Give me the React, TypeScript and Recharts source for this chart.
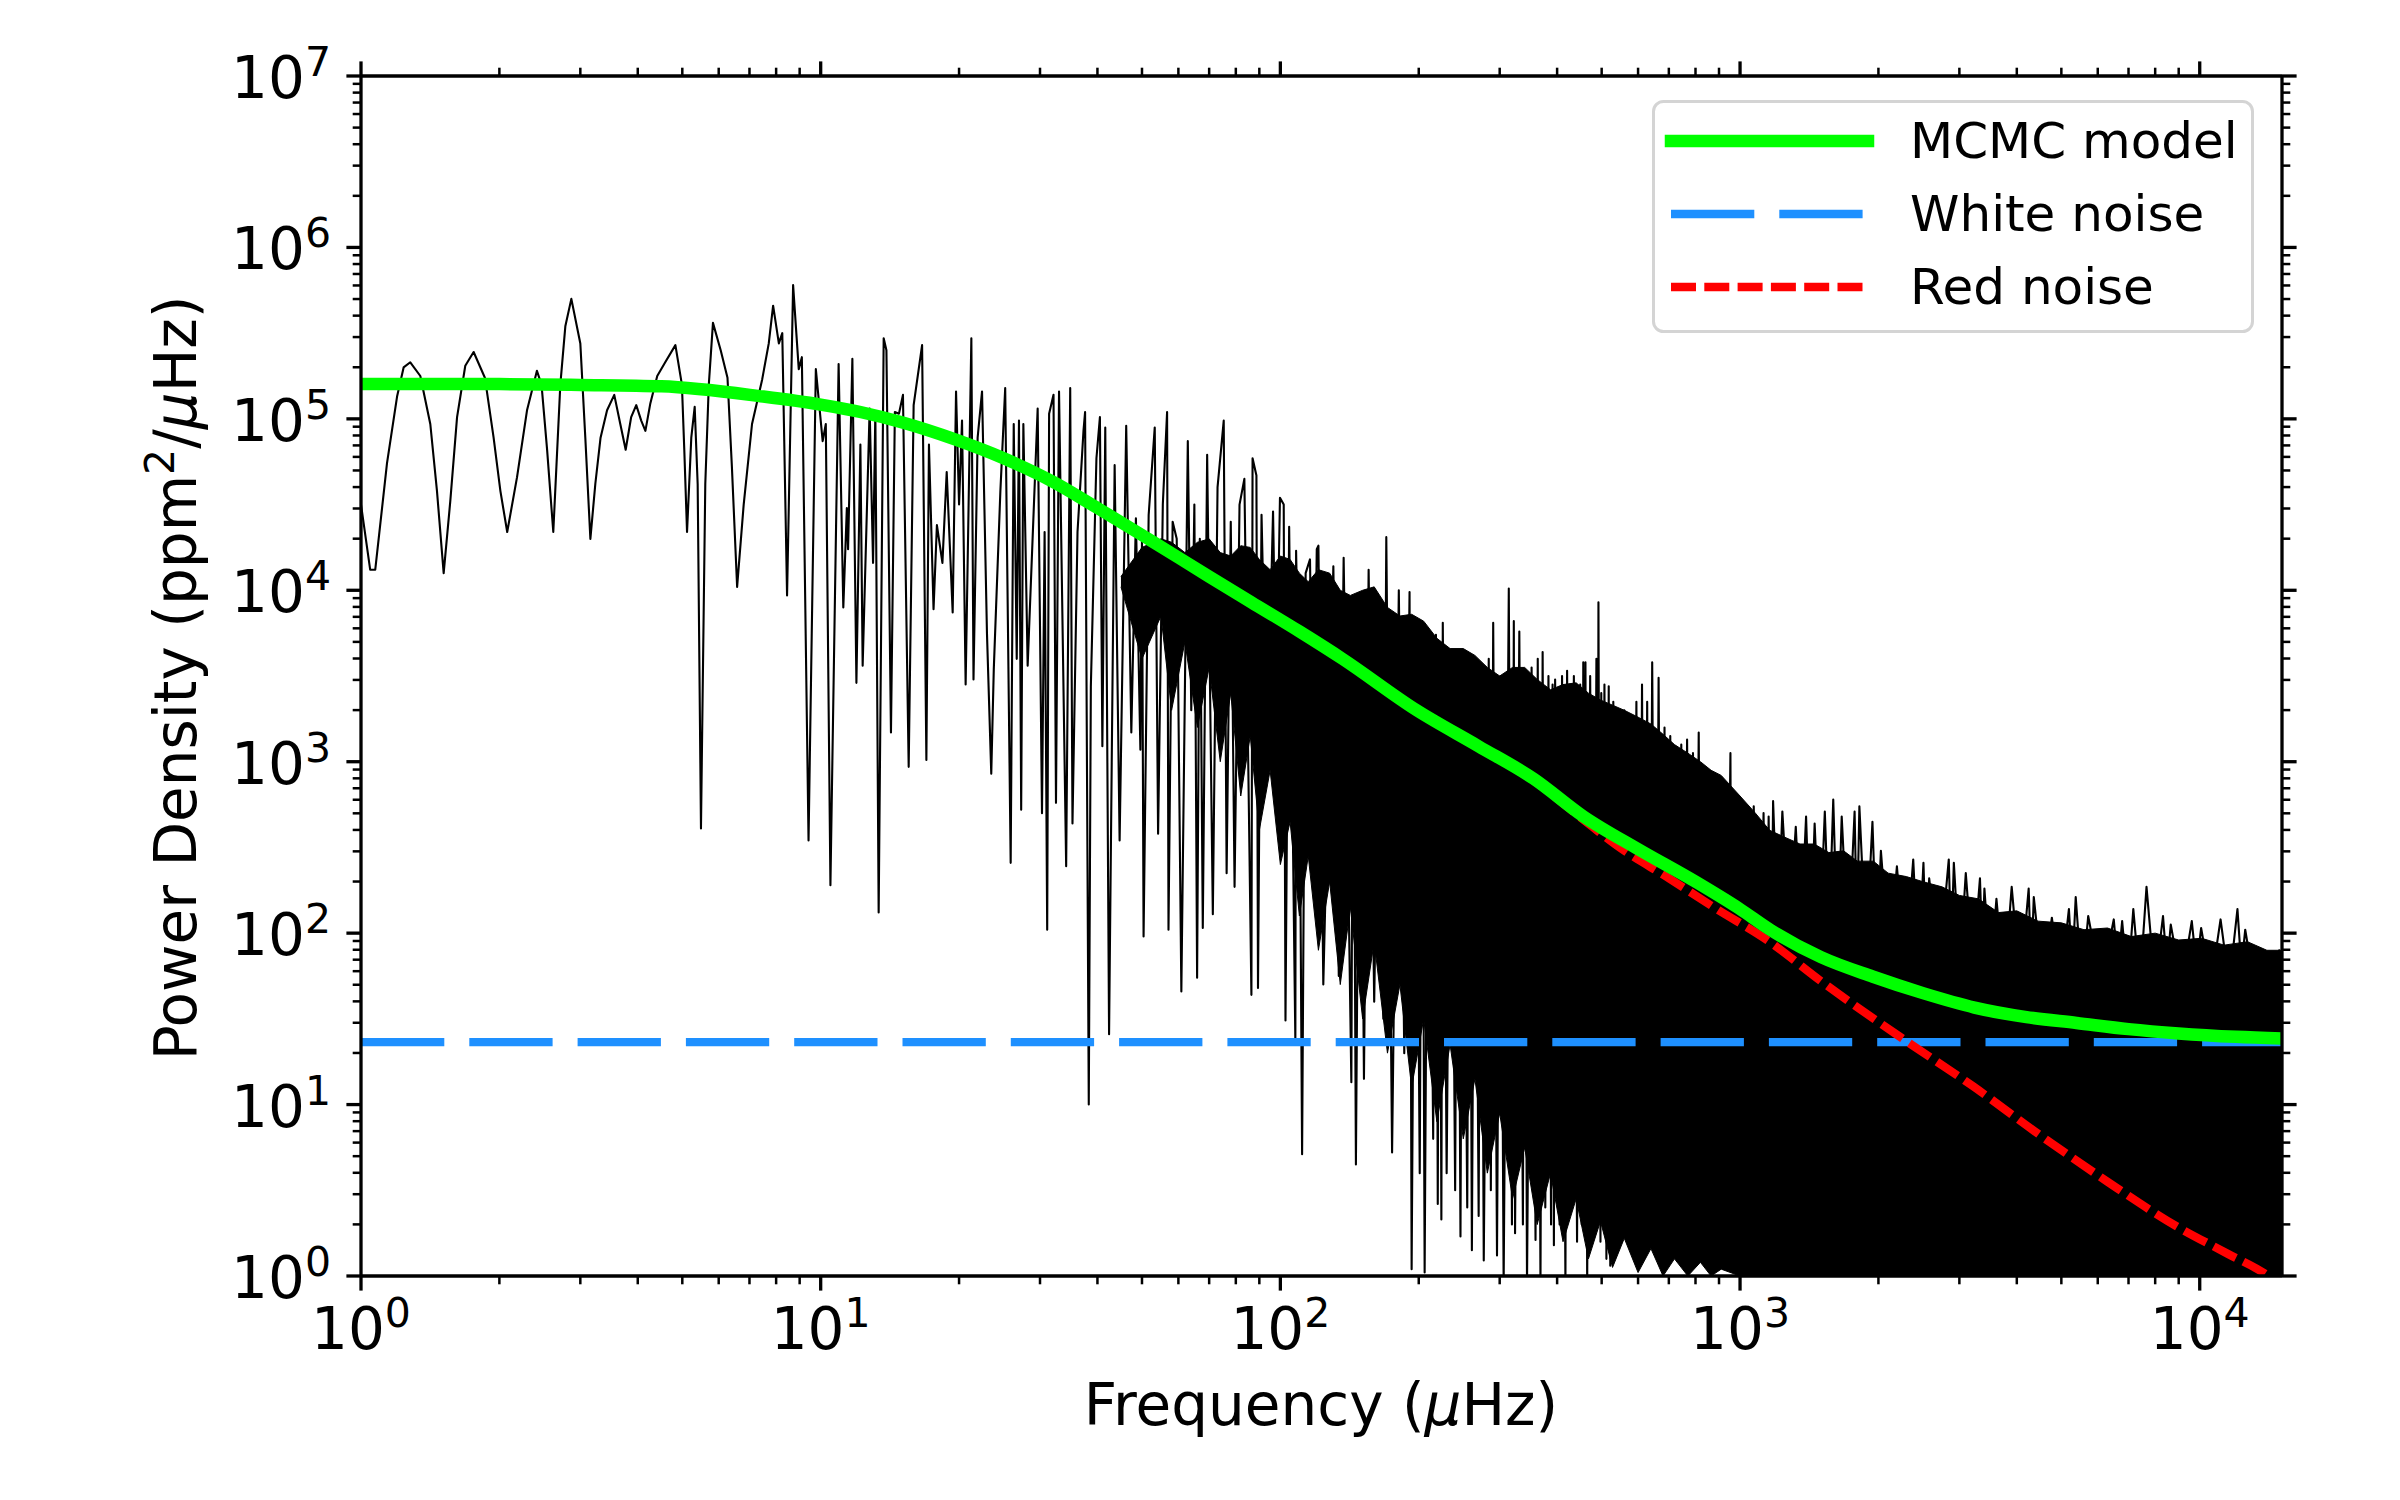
import React from "react";
import { ComposedChart, Line, Area, XAxis, YAxis, Legend } from "recharts";

const FONT = "DejaVu Sans";

// periodogram: [frequency (µHz), log10 power density]
const lowSpec: [number, number][] = [
  [1.0, 4.5], [1.047, 4.12], [1.074, 4.12], [1.139, 4.74], [1.198, 5.13], [1.238, 5.3],
  [1.28, 5.33], [1.346, 5.25], [1.415, 4.97], [1.463, 4.58], [1.513, 4.1], [1.564, 4.52],
  [1.618, 5.01], [1.686, 5.31], [1.758, 5.39], [1.86, 5.24], [1.943, 4.89], [2.01, 4.58],
  [2.08, 4.34], [2.185, 4.66], [2.297, 5.05], [2.414, 5.28], [2.47, 5.2], [2.54, 4.82],
  [2.62, 4.34], [2.714, 5.2], [2.783, 5.54], [2.868, 5.7], [3.0, 5.44], [3.076, 4.89],
  [3.155, 4.3], [3.234, 4.62], [3.32, 4.89], [3.43, 5.05], [3.556, 5.14], [3.665, 4.97],
  [3.765, 4.82], [3.87, 5.01], [3.97, 5.08], [4.07, 4.99], [4.156, 4.93], [4.26, 5.09],
  [4.41, 5.25], [4.59, 5.33], [4.83, 5.43], [4.99, 5.2], [5.05, 4.82], [5.12, 4.34],
  [5.23, 4.89], [5.32, 5.07], [5.4, 4.62], [5.49, 2.61], [5.61, 4.62], [5.71, 5.2],
  [5.83, 5.56], [6.06, 5.4], [6.27, 5.24], [6.41, 4.72], [6.58, 4.02], [6.8, 4.5],
  [7.09, 4.97], [7.46, 5.23], [7.71, 5.44], [7.88, 5.66], [8.11, 5.44], [8.25, 5.5],
  [8.45, 3.97], [8.71, 5.78], [8.96, 5.29], [9.1, 5.36], [9.41, 2.54], [9.76, 5.29],
  [10.1, 4.87], [10.26, 4.97],
];

const midSpec: [number, number][] = [
  [10.5, 2.28], [10.94, 5.32], [11.2, 3.9], [11.4, 4.48], [11.47, 4.24], [11.72, 5.35],
  [11.96, 3.46], [12.2, 4.85], [12.34, 3.56], [12.78, 5.06], [13.0, 4.16], [13.15, 5.04],
  [13.37, 2.12], [13.71, 5.47], [13.9, 5.4], [14.22, 3.17], [14.5, 5.04], [14.8, 5.03],
  [15.1, 5.14], [15.54, 2.97], [15.93, 5.08], [16.62, 5.43], [16.98, 3.01], [17.2, 4.85],
  [17.6, 3.89], [17.9, 4.38], [18.4, 4.16], [18.8, 4.69], [19.37, 3.87], [19.7, 5.16],
  [20.0, 4.5], [20.3, 4.99], [20.67, 3.45], [21.27, 5.47], [21.5, 3.48], [21.95, 4.89],
  [22.44, 5.16], [23.0, 3.75], [23.5, 2.93], [23.8, 3.54], [24.6, 4.58], [25.2, 5.18],
  [25.9, 2.41], [26.3, 4.97], [26.7, 3.6], [27.0, 4.99], [27.3, 2.72], [27.6, 4.97],
  [28.2, 3.56], [29.65, 5.06], [30.3, 2.7], [30.7, 4.34], [31.1, 2.02], [31.4, 5.03],
  [32.1, 5.14], [32.5, 2.76], [33.0, 5.16], [34.2, 2.39], [34.9, 5.18], [35.3, 2.64],
  [36.2, 4.34], [37.3, 4.93], [37.6, 5.04], [38.3, 1.0], [38.7, 3.44], [39.8, 4.77],
  [40.5, 5.01], [41.0, 3.09], [41.6, 4.95], [42.4, 1.41], [43.6, 4.73], [44.7, 2.54],
  [46.2, 4.96], [47.4, 3.17], [48.5, 4.42], [49.6, 3.07], [50.0, 4.3], [50.4, 1.98],
  [51.7, 4.44], [53.3, 4.95], [54.2, 2.58], [55.5, 4.5], [56.7, 5.04], [57.1, 2.02],
  [58.3, 4.4], [59.5, 4.3], [60.9, 1.66], [62.9, 4.87], [64.0, 3.3], [65.0, 4.5],
  [65.9, 1.74], [66.8, 4.3], [67.8, 2.03], [69.3, 4.79], [71.3, 2.11], [73.0, 4.6],
  [75.3, 4.99], [76.4, 2.35], [78.0, 4.4], [79.5, 2.27], [81.5, 4.5], [83.5, 4.65],
  [86.5, 1.64], [87.0, 4.77], [88.7, 4.67], [89.4, 1.68], [91.0, 4.44], [93.5, 3.0],
  [96.4, 4.46], [98.0, 3.3], [99.8, 4.54], [101.7, 4.5], [102.6, 1.49], [104.5, 4.37],
  [107.8, 1.37], [108.2, 4.23], [110.0, 3.2], [111.5, 0.71], [113.5, 4.1], [116.0, 4.18],
  [118.0, 2.8], [120.0, 4.24],
];

const highSpec: [number, number][] = [
  [121, 4.26], [124, 1.7], [130.4, 4.14], [134, 1.75], [137.3, 4.19], [142.7, 1.13],
  [144, 3.9], [146, 0.65], [149, 3.95], [152, 1.15], [155.6, 4.12], [160, 1.6],
  [165, 3.9], [167.5, 1.5], [170, 4.31], [175, 0.72], [181, 4.0], [186, 1.3],
  [191, 3.99], [193, 0.04], [197, 3.8], [201, 0.6], [203.5, 3.7], [206, 0.02],
  [210, 3.75], [215, 0.8], [218, 3.74], [220, 0.42], [222, 3.6], [224, 0.33],
  [225.6, 3.81], [230, 0.6], [235, 3.6], [240, 0.5], [243, 3.55], [246.5, 0.23],
  [249.3, 3.61], [255, 0.4], [258, 3.5], [261, 0.15], [265, 3.55], [270, 0.35],
  [273, 3.5], [277, 0.09], [284, 3.6], [287, 0.5], [290.4, 3.81], [296, 0.12],
  [301, 3.5], [306, -0.05], [314, 4.01], [319, 0.3], [322, 3.82], [324, 0.25],
  [331, 3.76], [337, 0.3], [340, 3.5], [344, -0.05], [352, 3.55], [359, 0.21],
  [363, 3.6], [368, -0.05], [372, 3.64], [377, 0.4], [383, 3.5], [388, 0.3],
  [391, 3.45], [393.6, 0.18], [396, 3.48], [405, 0.3], [410, 3.5], [417, -0.05],
  [420.5, 3.53], [428, 0.4], [435, 3.5], [442, 0.2], [449, 3.45], [452.5, 0.3],
  [456, 3.58], [458.5, 0.5], [461, 3.58], [465, -0.05], [472, 3.5], [480, 0.3],
  [487, 3.6], [489.5, 0.6], [492, 3.93], [497, 0.2], [499, 3.4], [501, 0.41],
  [507, 3.45], [512, 0.1], [518, 3.44], [522, 0.06], [530, 3.35], [537, 0.3],
  [545, 3.3], [552, 0.2], [560, 3.3], [568, 0.4], [577, 3.25], [585, 0.5],
  [595, 3.35], [603, 0.3], [612, 3.45], [620, 0.5], [628, 3.35], [635, 0.4],
  [644, 3.58], [655, 0.5], [665, 3.49], [675, 0.6], [685, 3.2], [695, 0.4],
  [705, 3.15], [715, 0.5], [723, 3.05], [730, 0.48], [745, 3.1], [755, 0.6],
  [767, 3.13], [780, 0.5], [790, 3.05], [800, 0.6], [813, 3.17], [825, 0.6],
  [840, 2.95], [855, 0.5], [870, 2.85], [877, 0.7], [884, 2.7], [900, 0.5],
  [915, 2.9], [930, 0.6], [953, 3.05], [961, 0.36], [980, 2.8], [1000, 0.5],
  [1020, 2.75], [1045, 1.0], [1071, 2.74], [1100, 1.2], [1125, 2.7], [1140, 1.3],
  [1154, 2.68], [1167, 1.5], [1180, 2.77], [1208, 2.0], [1236, 2.71], [1280, 2.0],
  [1322, 2.62], [1357, 2.0], [1392, 2.68], [1422, 1.9], [1453, 2.64], [1490, 1.95],
  [1529, 2.71], [1562, 2.0], [1595, 2.78], [1630, 1.9], [1664, 2.68], [1720, 1.9],
  [1775, 2.71], [1796, 2.0], [1818, 2.74], [1880, 1.9], [1941, 2.65], [1983, 1.9],
  [2025, 2.48], [2110, 1.85], [2194, 2.39], [2287, 1.8], [2381, 2.43], [2443, 1.8],
  [2506, 2.41], [2540, 1.9], [2579, 2.32], [2710, 1.8], [2845, 2.43], [2880, 1.9],
  [2918, 2.41], [3008, 1.8], [3098, 2.35], [3210, 1.8], [3326, 2.32], [3365, 1.9],
  [3401, 2.26], [3505, 1.75], [3612, 2.2], [3755, 1.7], [3899, 2.27], [4070, 1.7],
  [4245, 2.26], [4300, 1.8], [4355, 2.21], [4560, 1.7], [4768, 2.09], [4980, 1.7],
  [5193, 2.14], [5283, 1.8], [5373, 2.21], [5545, 1.7], [5720, 2.1], [6100, 1.7],
  [6501, 2.08], [6640, 1.8], [6780, 2.07], [6975, 1.7], [7170, 2.14], [7410, 1.7],
  [7660, 2.27], [7990, 1.7], [8320, 2.1], [8485, 1.8], [8650, 2.05], [9130, 1.7],
  [9610, 2.07], [9840, 1.8], [10070, 2.03], [10580, 1.7], [11100, 2.08], [11590, 1.7],
  [12080, 2.14], [12320, 1.8], [12560, 2.02], [13140, 1.7], [13730, 1.9], [14310, 1.7],
  [14890, 1.9], [15100, 1.75],
];

// densely filled part of the periodogram: [frequency, log10 lower edge, log10 upper edge]
const coreBand: [number, number, number][] = [
  [45, 4.02, 4.08], [50, 3.6, 4.25], [55, 3.85, 4.3], [58, 3.3, 4.28], [62, 3.7, 4.22],
  [66, 3.2, 4.28], [70, 3.55, 4.3], [74, 3.0, 4.22], [78, 3.4, 4.2], [82, 2.8, 4.26],
  [86, 3.15, 4.25], [90, 2.6, 4.18], [95, 2.95, 4.12], [100, 2.4, 4.2], [105, 2.65, 4.18],
  [110, 2.1, 4.1], [115, 2.45, 4.05], [121, 1.9, 4.12], [128, 2.3, 4.1], [135, 1.7, 4.0],
  [142, 2.15, 3.97], [151, 1.5, 4.0], [160, 1.95, 4.02], [171, 1.3, 3.9], [182, 1.7, 3.85],
  [193, 1.1, 3.86], [205, 1.5, 3.82], [219, 0.9, 3.72], [234, 1.35, 3.66], [250, 0.8, 3.66],
  [265, 1.15, 3.62], [282, 0.6, 3.55], [300, 0.95, 3.5], [320, 0.45, 3.55], [340, 0.75, 3.55],
  [362, 0.3, 3.48], [387, 0.6, 3.42], [412, 0.2, 3.45], [440, 0.45, 3.46], [468, 0.1, 3.4],
  [497, 0.32, 3.36], [528, 0.05, 3.33], [560, 0.22, 3.3], [600, 0.02, 3.26], [640, 0.16, 3.22],
  [680, 0, 3.16], [720, 0.1, 3.1], [770, 0, 3.05], [820, 0.08, 3.0], [865, 0, 2.95],
  [910, 0.04, 2.92], [1000, 0, 2.8], [1080, 0, 2.7], [1160, 0, 2.6], [1250, 0, 2.56],
  [1350, 0, 2.52], [1450, 0, 2.52], [1560, 0, 2.47], [1680, 0, 2.48], [1800, 0, 2.42],
  [1950, 0, 2.42], [2100, 0, 2.35], [2300, 0, 2.33], [2500, 0, 2.3], [2750, 0, 2.27],
  [3000, 0, 2.22], [3300, 0, 2.2], [3650, 0, 2.12], [4000, 0, 2.13], [4450, 0, 2.07],
  [5000, 0, 2.06], [5600, 0, 2.02], [6300, 0, 2.03], [7100, 0, 1.98], [8000, 0, 2.0],
  [9000, 0, 1.96], [10100, 0, 1.97], [11300, 0, 1.93], [12700, 0, 1.95], [14000, 0, 1.9],
  [15100, 0, 1.9],
];

// fitted curves: [frequency, log10 power density]
const modelCurve: [number, number][] = [
  [1, 5.204], [2, 5.203], [3, 5.198], [4.5, 5.19], [7.5, 5.13], [10, 5.083], [12.2, 5.04],
  [15, 4.98], [19.6, 4.88], [25, 4.77], [32, 4.633], [40, 4.48], [52.3, 4.29], [70, 4.08],
  [86.5, 3.93], [110, 3.76], [136.5, 3.6], [198, 3.3], [270, 3.09], [356, 2.9], [457, 2.68],
  [600, 2.49], [800, 2.3], [1000, 2.14], [1163, 2.02], [1500, 1.86], [1941, 1.747],
  [2500, 1.65], [3236, 1.566], [4200, 1.51], [5395, 1.476], [7000, 1.44], [8985, 1.415],
  [12000, 1.395], [15100, 1.385],
];

const redCurve: [number, number][] = [
  [1, 5.204], [2, 5.203], [3, 5.198], [4.5, 5.19], [7.5, 5.13], [10, 5.083], [12.2, 5.04],
  [15, 4.98], [19.6, 4.88], [25, 4.77], [32, 4.633], [40, 4.48], [52.3, 4.29], [70, 4.08],
  [86.5, 3.93], [110, 3.76], [136.5, 3.6], [198, 3.3], [270, 3.09], [356, 2.89], [457, 2.66],
  [540, 2.51], [700, 2.32], [891, 2.139], [1145, 1.96], [1500, 1.72], [2300, 1.37],
  [3200, 1.11], [4540, 0.813], [6300, 0.55], [8970, 0.285], [11500, 0.13], [13960, 0.008],
  [15100, -0.06],
];

const whiteCurve: [number, number][] = [
  [1, 1.364], [15100, 1.364],
];

const xMajor = [1, 10, 100, 1000, 10000];
const yMajor = [1, 10, 100, 1000, 10000, 100000, 1000000, 10000000];
const minorSteps = [2, 3, 4, 5, 6, 7, 8, 9];
const xDomain = [1, 15100];
const yDomain = [1, 10000000];

const withMinor = (majors: number[], max: number) =>
  majors.flatMap((m) => [m, ...minorSteps.map((s) => s * m)]).filter((v) => v <= max);

const xTicks = withMinor(xMajor, xDomain[1]);
const yTicks = withMinor(yMajor, yDomain[1]);

const toPoints = (rows: [number, number][]) => rows.map(([f, lp]) => ({ f, p: Math.pow(10, lp) }));

const spectrum = toPoints([...lowSpec, ...midSpec, ...highSpec]);
const core = coreBand.map(([f, lo, hi]) => ({ f, range: [Math.pow(10, lo), Math.pow(10, hi)] }));
const model = toPoints(modelCurve);
const red = toPoints(redCurve);
const white = toPoints(whiteCurve);

type Side = "bottom" | "top" | "left" | "right";

const makeTick = (side: Side) => (props: any) => {
  const { x, y, payload } = props;
  const v = Number(payload.value);
  const lg = Math.log10(v);
  const exp = Math.round(lg);
  const major = Math.abs(lg - exp) < 1e-6;
  const len = major ? 14.6 : 8.3;
  let x2 = x;
  let y2 = y;
  if (side === "bottom") y2 = y + len;
  if (side === "top") y2 = y - len;
  if (side === "left") x2 = x - len;
  if (side === "right") x2 = x + len;
  return (
    <g>
      <line x1={x} y1={y} x2={x2} y2={y2} stroke="#000" strokeWidth={major ? 3.3 : 2.5} />
      {major && side === "bottom" && (
        <text x={x} y={y + 73} textAnchor="middle" fontSize={58} fontFamily={FONT} fill="#000">
          10<tspan dy={-22} fontSize={41}>{exp}</tspan>
        </text>
      )}
      {major && side === "left" && (
        <text x={x - 30} y={y + 22} textAnchor="end" fontSize={58} fontFamily={FONT} fill="#000">
          10<tspan dy={-22} fontSize={41}>{exp}</tspan>
        </text>
      )}
    </g>
  );
};

const XTitle = () => (
  <text x={1321} y={1425} textAnchor="middle" fontSize={58} fontFamily={FONT} fill="#000">
    Frequency (<tspan fontStyle="italic">μ</tspan>Hz)
  </text>
);

const YTitle = () => (
  <text
    x={196}
    y={678}
    transform="rotate(-90 196 678)"
    textAnchor="middle"
    fontSize={58}
    fontFamily={FONT}
    fill="#000"
  >
    Power Density (ppm<tspan dy={-22} fontSize={41}>2</tspan>
    <tspan dy={22}>/</tspan>
    <tspan fontStyle="italic">μ</tspan>Hz)
  </text>
);

const legendItems = [
  { label: "MCMC model", color: "#00ff00", width: 12.5, dash: undefined, cap: "square" },
  { label: "White noise", color: "#1e90ff", width: 8.3, dash: "83.3 25", cap: "butt" },
  { label: "Red noise", color: "#ff0000", width: 8.3, dash: "25 8.3", cap: "butt" },
];

const LegendBox = () => (
  <svg width={602} height={233} style={{ display: "block" }}>
    <rect x={1.5} y={1.5} width={599} height={230} rx={10} fill="#fff" fillOpacity={0.8} stroke="#d4d4d4" strokeWidth={3} />
    {legendItems.map((it, i) => (
      <g key={it.label}>
        <line
          x1={19}
          x2={it.cap === "square" ? 216 : 212}
          y1={41 + i * 73}
          y2={41 + i * 73}
          stroke={it.color}
          strokeWidth={it.width}
          strokeDasharray={it.dash}
          strokeLinecap={it.cap as any}
        />
        <text x={258} y={58 + i * 73} fontSize={50} fontFamily={FONT} fill="#000">
          {it.label}
        </text>
      </g>
    ))}
  </svg>
);

const axisLine = { stroke: "#000", strokeWidth: 3.3 };

export default function App() {
  return (
    <div style={{ position: "absolute", left: 0, top: 0, width: 2400, height: 1500, background: "#fff" }}>
      <ComposedChart width={2400} height={1500} margin={{ top: 0, right: 0, bottom: 0, left: 0 }}>
        <XAxis
          xAxisId="b"
          dataKey="f"
          type="number"
          scale="log"
          domain={xDomain}
          allowDataOverflow
          ticks={xTicks}
          interval={0}
          tickSize={0}
          tickMargin={0}
          tickLine={false}
          axisLine={axisLine}
          tick={makeTick("bottom")}
          height={224}
          orientation="bottom"
          label={<XTitle />}
        />
        <XAxis
          xAxisId="t"
          dataKey="f"
          type="number"
          scale="log"
          domain={xDomain}
          allowDataOverflow
          ticks={xTicks}
          interval={0}
          tickSize={0}
          tickMargin={0}
          tickLine={false}
          axisLine={axisLine}
          tick={makeTick("top")}
          height={76}
          orientation="top"
        />
        <YAxis
          yAxisId="l"
          type="number"
          scale="log"
          domain={yDomain}
          allowDataOverflow
          ticks={yTicks}
          interval={0}
          tickSize={0}
          tickMargin={0}
          tickLine={false}
          axisLine={axisLine}
          tick={makeTick("left")}
          width={361}
          orientation="left"
          label={<YTitle />}
        />
        <YAxis
          yAxisId="r"
          type="number"
          scale="log"
          domain={yDomain}
          allowDataOverflow
          ticks={yTicks}
          interval={0}
          tickSize={0}
          tickMargin={0}
          tickLine={false}
          axisLine={axisLine}
          tick={makeTick("right")}
          width={118}
          orientation="right"
        />
        <Area
          xAxisId="b"
          yAxisId="l"
          data={core}
          dataKey="range"
          type="linear"
          stroke="#000"
          strokeWidth={1}
          fill="#000"
          fillOpacity={1}
          isAnimationActive={false}
          dot={false}
          activeDot={false}
        />
        <Line
          xAxisId="b"
          yAxisId="l"
          data={spectrum}
          dataKey="p"
          type="linear"
          stroke="#000"
          strokeWidth={2.1}
          strokeLinejoin="round"
          dot={false}
          activeDot={false}
          isAnimationActive={false}
        />
        <Line
          xAxisId="b"
          yAxisId="l"
          data={white}
          dataKey="p"
          type="linear"
          stroke="#1e90ff"
          strokeWidth={8.3}
          strokeDasharray="83.3 25"
          dot={false}
          activeDot={false}
          isAnimationActive={false}
        />
        <Line
          xAxisId="b"
          yAxisId="l"
          data={red}
          dataKey="p"
          type="monotone"
          stroke="#ff0000"
          strokeWidth={8.3}
          strokeDasharray="25 8.3"
          dot={false}
          activeDot={false}
          isAnimationActive={false}
        />
        <Line
          xAxisId="b"
          yAxisId="l"
          data={model}
          dataKey="p"
          type="monotone"
          stroke="#00ff00"
          strokeWidth={12.5}
          dot={false}
          activeDot={false}
          isAnimationActive={false}
        />
        <Legend
          layout="vertical"
          align="center"
          verticalAlign="middle"
          wrapperStyle={{ left: 1652, top: 100, width: 602, height: 233 }}
          content={() => <LegendBox />}
        />
      </ComposedChart>
    </div>
  );
}
